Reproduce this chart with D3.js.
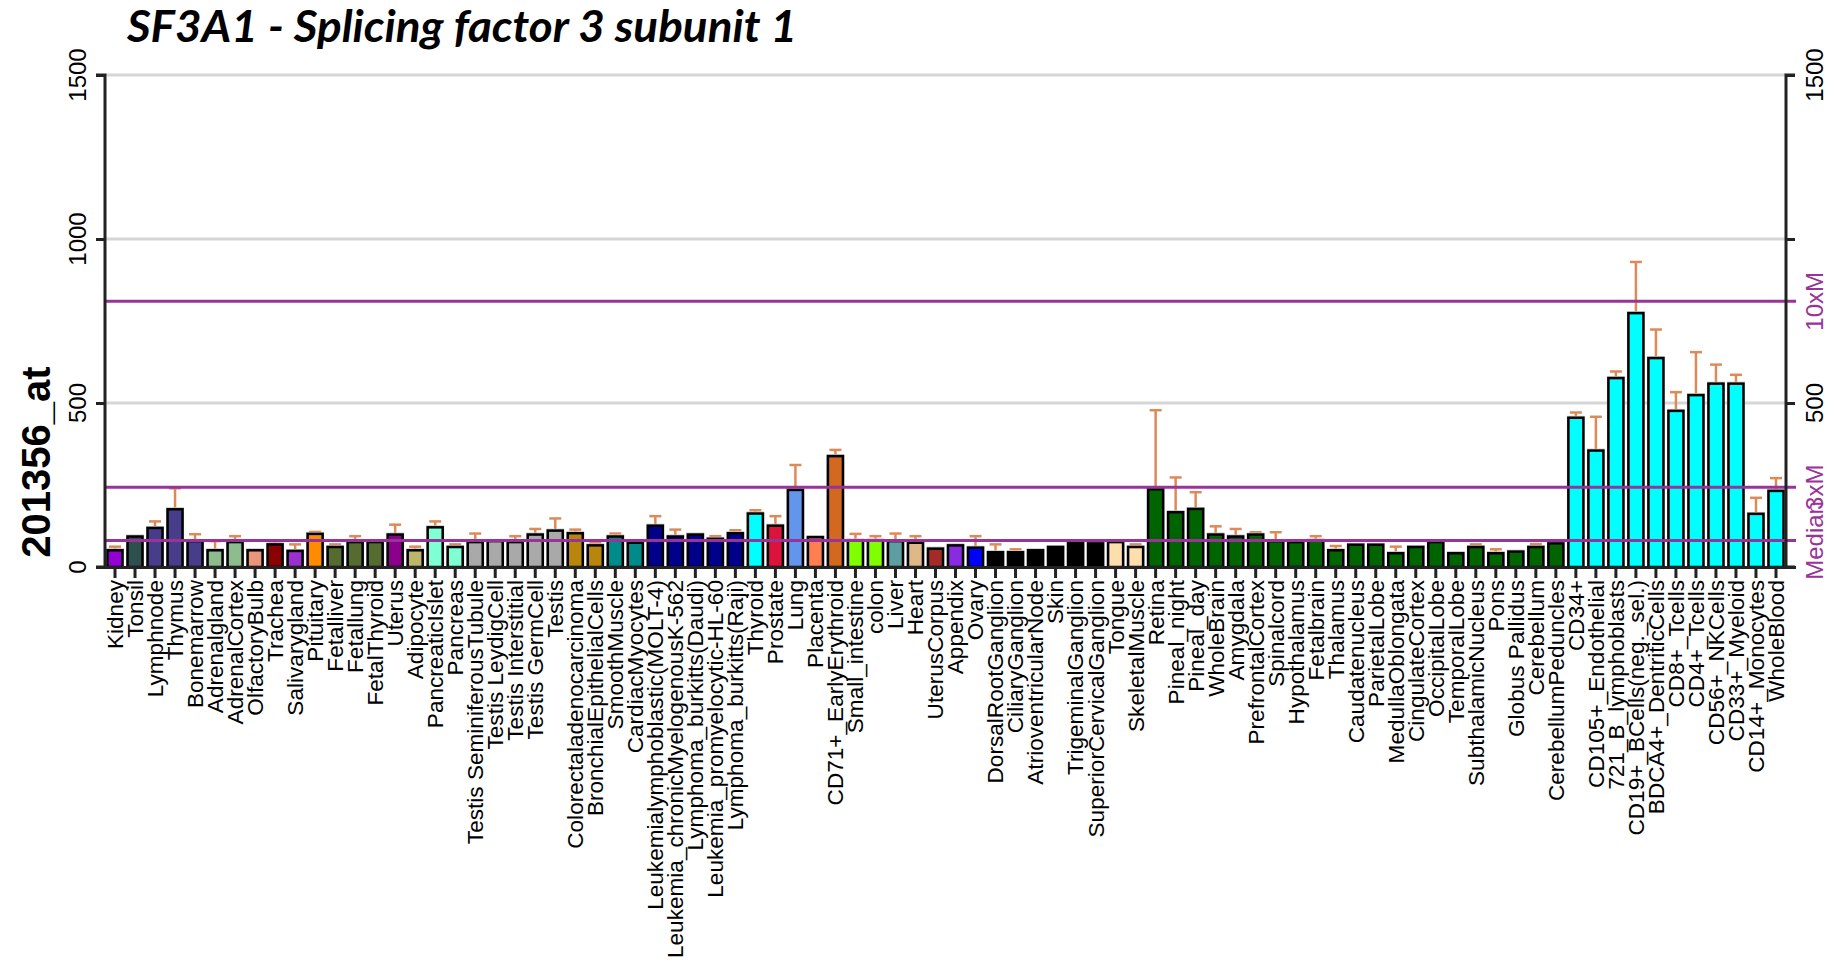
<!DOCTYPE html>
<html>
<head>
<meta charset="utf-8">
<script src="https://cdn.jsdelivr.net/npm/d3@7"></script>
<style>
    body { margin: 0; background: #fff; }
    svg { display: block; }
    text { font-family: "Liberation Sans", Arial, sans-serif; }
</style>
</head>
<body>
<svg id="chart" width="1841" height="967"></svg>
<script>
// Tissue names, in plot order
const tissues = [
    "Kidney", "Tonsil", "Lymphnode", "Thymus", "Bonemarrow", "Adrenalgland", "AdrenalCortex",
    "OlfactoryBulb", "Trachea", "Salivarygland", "Pituitary", "Fetalliver", "Fetallung",
    "FetalThyroid", "Uterus", "Adipocyte", "PancreaticIslet", "Pancreas",
    "Testis SeminiferousTubule", "Testis LeydigCell", "Testis Interstitial", "Testis GermCell",
    "Testis", "Colorectaladenocarcinoma", "BronchialEpithelialCells", "SmoothMuscle",
    "CardiacMyocytes", "Leukemialymphoblastic(MOLT-4)", "Leukemia_chronicMyelogenousK-562",
    "Lymphoma_burkitts(Daudi)", "Leukemia_promyelocytic-HL-60", "Lymphoma_burkitts(Raji)",
    "Thyroid", "Prostate", "Lung", "Placenta", "CD71+_EarlyErythroid", "Small_intestine",
    "colon", "Liver", "Heart", "UterusCorpus", "Appendix", "Ovary", "DorsalRootGanglion",
    "CiliaryGanglion", "AtrioventricularNode", "Skin", "TrigeminalGanglion",
    "SuperiorCervicalGanglion", "Tongue", "SkeletalMuscle", "Retina", "Pineal_night",
    "Pineal_day", "WholeBrain", "Amygdala", "PrefrontalCortex", "Spinalcord", "Hypothalamus",
    "Fetalbrain", "Thalamus", "Caudatenucleus", "ParietalLobe", "MedullaOblongata",
    "CingulateCortex", "OccipitalLobe", "TemporalLobe", "SubthalamicNucleus", "Pons",
    "Globus Pallidus", "Cerebellum", "CerebellumPeduncles", "CD34+", "CD105+_Endothelial",
    "721_B_lymphoblasts", "CD19+_BCells(neg._sel.)", "BDCA4+_DentriticCells", "CD8+_Tcells",
    "CD4+_Tcells", "CD56+_NKCells", "CD33+_Myeloid", "CD14+_Monocytes", "WholeBlood"
];

// Mean expression per tissue
const expression = [
    54, 96, 122, 179, 82, 54, 79, 54, 72, 52, 104, 64, 79, 79, 102, 54, 124, 64,
    79, 82, 79, 102, 114, 106, 69, 96, 77, 129, 96, 102, 89, 106,
    166, 129, 238, 94, 341, 84, 84, 82, 77, 59, 69, 62, 48, 48, 54, 64, 82, 75,
    79, 64, 240, 170, 180, 102, 96, 102, 82, 79, 84, 54, 71, 71, 45, 64, 79, 45,
    64, 45, 50, 64, 75, 458, 358, 579, 777, 640, 479, 527, 562, 562, 165, 235
];

// Top of the error bar (null = no visible error bar)
const errorTop = [
    62, null, 139, 240, 100, 79, 94, null, 78, 69, 107, 69, 94, null, 129, 62, 139, 69,
    102, null, 94, 116, 148, 114, 74, 102, null, 155, 114, null, 94, 112,
    173, 155, 311, null, 357, 101, 94, 102, 94, null, null, 94, 69, 54, null, null, null, 79,
    null, 69, 478, 273, 228, 124, 116, 106, 106, null, 94, 64, null, null, 62, null, null, null,
    69, 54, null, 70, null, 471, 458, 596, 930, 724, 533, 655, 617, 586, 211, 271
];

// Bar fill per tissue
const barColors = [
    "#9400D3", "#2F4F4F", "#483D8B", "#483D8B", "#483D8B", "#8FBC8F", "#8FBC8F", "#E9967A",
    "#8B0000", "#9932CC", "#FF8C00", "#556B2F", "#556B2F", "#556B2F", "#8B008B", "#BDB76B",
    "#7FFFD4", "#7FFFD4", "#A9A9A9", "#A9A9A9", "#A9A9A9", "#A9A9A9", "#A9A9A9", "#B8860B",
    "#B8860B", "#008B8B", "#008B8B", "#00008B", "#00008B", "#00008B", "#00008B", "#00008B",
    "#00FFFF", "#DC143C", "#6495ED", "#FF7F50", "#D2691E", "#7FFF00", "#7FFF00", "#5F9EA0",
    "#DEB887", "#A52A2A", "#8A2BE2", "#0000FF", "#000000", "#000000", "#000000", "#000000",
    "#000000", "#000000", "#FFDEAD", "#FFDEAD", "#006400", "#006400", "#006400", "#006400",
    "#006400", "#006400", "#006400", "#006400", "#006400", "#006400", "#006400", "#006400",
    "#006400", "#006400", "#006400", "#006400", "#006400", "#006400", "#006400", "#006400",
    "#006400", "#00FFFF", "#00FFFF", "#00FFFF", "#00FFFF", "#00FFFF", "#00FFFF", "#00FFFF",
    "#00FFFF", "#00FFFF", "#00FFFF", "#00FFFF"
];

const leftTicks = [0, 500, 1000, 1500];
const rightTicks = [500, 1500];
const refValues = [81, 243, 810];
const refLabels = ["Median", "3xM", "10xM"];

const svg = d3.select("#chart");
const plotLeft = 105, plotRight = 1786, plotTop = 75, plotBottom = 567;
const refColor = "#993399";
const errColor = "#dd8a58";

const x = d3.scaleBand()
    .domain(tissues)
    .range([plotLeft, plotRight])
    .paddingInner(0.2)
    .paddingOuter(0.1);

const y = d3.scaleLinear()
    .domain([0, 1500])
    .range([plotBottom, plotTop]);

const cx = d => x(d) + x.bandwidth() / 2;

// Title
svg.append("text")
    .attr("x", 127)
    .attr("y", 42)
    .attr("textLength", 670)
    .attr("lengthAdjust", "spacingAndGlyphs")
    .style("font-family", "Lato, 'Open Sans', sans-serif")
    .style("font-weight", "bold")
    .style("font-style", "italic")
    .style("font-size", "44px")
    .text("SF3A1 - Splicing factor 3 subunit 1");

// Grid lines
svg.selectAll(".grid")
    .data(leftTicks.filter(d => d > 0))
    .enter().append("line")
    .attr("class", "grid")
    .attr("x1", plotLeft).attr("x2", plotRight)
    .attr("y1", d => y(d)).attr("y2", d => y(d))
    .attr("stroke", "#d6d6d6")
    .attr("stroke-width", 3);

// Error bars
const errData = tissues.map((t, i) => ({ t, v: expression[i], e: errorTop[i] }))
    .filter(d => d.e !== null);

const errs = svg.selectAll(".err")
    .data(errData)
    .enter().append("g")
    .attr("class", "err")
    .attr("stroke", errColor)
    .attr("stroke-width", 2.5);

errs.append("line")
    .attr("x1", d => cx(d.t))
    .attr("x2", d => cx(d.t))
    .attr("y1", d => y(d.v))
    .attr("y2", d => y(d.e));

errs.append("line")
    .attr("x1", d => cx(d.t) - 6)
    .attr("x2", d => cx(d.t) + 6)
    .attr("y1", d => y(d.e))
    .attr("y2", d => y(d.e));

// Bars: grey halo underneath, then the coloured bar with black outline
svg.selectAll(".halo")
    .data(tissues)
    .enter().append("rect")
    .attr("class", "halo")
    .attr("x", d => x(d) - 1)
    .attr("y", (d, i) => y(expression[i]) - 1)
    .attr("width", x.bandwidth() + 2)
    .attr("height", (d, i) => plotBottom - y(expression[i]) + 1)
    .attr("fill", "#c4c4c4");

svg.selectAll(".bar")
    .data(tissues)
    .enter().append("rect")
    .attr("class", "bar")
    .attr("x", d => x(d) + 0.5)
    .attr("y", (d, i) => y(expression[i]) + 1)
    .attr("width", x.bandwidth() - 1)
    .attr("height", (d, i) => plotBottom - y(expression[i]) - 1)
    .attr("fill", (d, i) => barColors[i])
    .attr("stroke", "#000")
    .attr("stroke-width", 2.5);

// Median, 3xM and 10xM lines
svg.selectAll(".ref")
    .data(refValues)
    .enter().append("line")
    .attr("class", "ref")
    .attr("x1", plotLeft).attr("x2", plotRight + 10)
    .attr("y1", d => y(d)).attr("y2", d => y(d))
    .attr("stroke", refColor)
    .attr("stroke-width", 3);

// Axes
const leftAxis = svg.append("g")
    .attr("transform", `translate(${plotLeft},0)`)
    .call(d3.axisLeft(y).tickValues(leftTicks).tickSize(9).tickFormat(""));

const rightAxis = svg.append("g")
    .attr("transform", `translate(${plotRight},0)`)
    .call(d3.axisRight(y).tickValues(leftTicks).tickSize(9).tickFormat(""));

const bottomAxis = svg.append("g")
    .attr("transform", `translate(0,${plotBottom})`)
    .call(d3.axisBottom(x).tickSize(11).tickSizeOuter(0).tickFormat(""));

[leftAxis, rightAxis, bottomAxis].forEach(a => {
    a.selectAll("path, line").attr("stroke", "#222").attr("stroke-width", 3);
});
bottomAxis.select(".domain").attr("d", `M${plotLeft - 5},0.5H${plotRight + 10}`);
leftAxis.select(".domain").attr("d", `M-9,${plotTop}H0V${plotBottom}H-9`);
rightAxis.select(".domain").attr("d", `M9,${plotTop}H0V${plotBottom}H9`);

// Tick labels (rotated)
svg.selectAll(".ltick")
    .data(leftTicks)
    .enter().append("text")
    .attr("class", "ltick")
    .attr("transform", d => `translate(78,${y(d)}) rotate(-90)`)
    .attr("text-anchor", "middle")
    .attr("dy", "0.35em")
    .style("font-size", "24px")
    .text(d => d);

svg.selectAll(".rtick")
    .data(rightTicks)
    .enter().append("text")
    .attr("class", "rtick")
    .attr("transform", d => `translate(1815,${y(d)}) rotate(-90)`)
    .attr("text-anchor", "middle")
    .attr("dy", "0.35em")
    .style("font-size", "24px")
    .text(d => d);

svg.selectAll(".rlabel")
    .data(refValues)
    .enter().append("text")
    .attr("class", "rlabel")
    .attr("transform", d => `translate(1815,${y(d)}) rotate(-90)`)
    .attr("text-anchor", "middle")
    .attr("dy", "0.35em")
    .attr("fill", refColor)
    .style("font-size", "24px")
    .text((d, i) => refLabels[i]);

// Y axis title
svg.append("text")
    .attr("transform", `translate(36,462) rotate(-90)`)
    .attr("text-anchor", "middle")
    .attr("dy", "0.35em")
    .style("font-size", "40px")
    .style("font-weight", "bold")
    .text("201356_at");

// Category labels
svg.selectAll(".xlabel")
    .data(tissues)
    .enter().append("text")
    .attr("class", "xlabel")
    .attr("transform", d => `translate(${cx(d)},580) rotate(-90)`)
    .attr("text-anchor", "end")
    .attr("dy", "0.35em")
    .style("font-size", "22.6px")
    .text(d => d);
</script>
</body>
</html>
